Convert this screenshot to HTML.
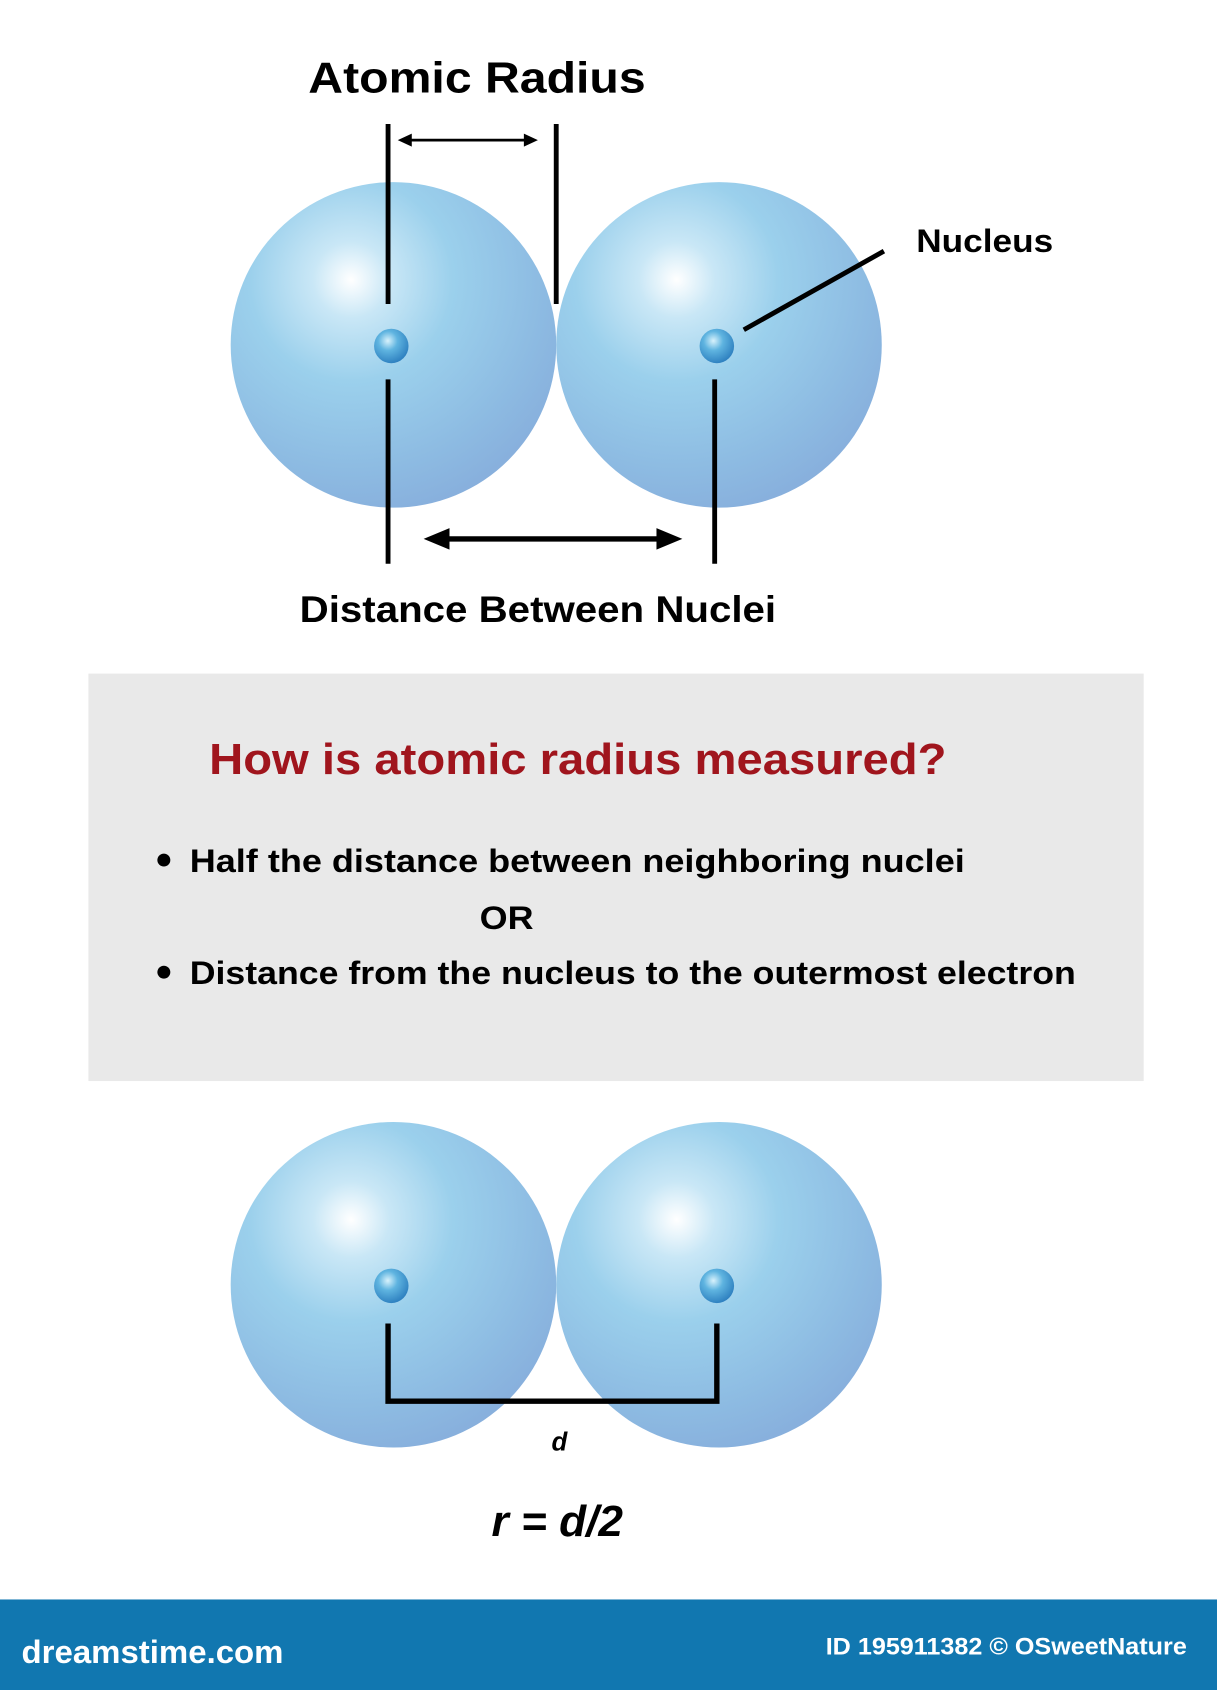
<!DOCTYPE html>
<html><head><meta charset="utf-8"><style>
html,body{margin:0;padding:0;background:#fff;width:1217px;height:1690px;overflow:hidden}
svg{display:block}
text{font-family:"Liberation Sans","DejaVu Sans",sans-serif;font-weight:bold}
</style></head><body>
<svg width="1217" height="1690" viewBox="0 0 1129 1568" preserveAspectRatio="none" xmlns="http://www.w3.org/2000/svg">
<defs>
<radialGradient id="g" cx="0.37" cy="0.3" r="0.78">
<stop offset="0" stop-color="#ffffff"/>
<stop offset="0.15" stop-color="#c9e7f6"/>
<stop offset="0.4" stop-color="#9bd0ec"/>
<stop offset="0.75" stop-color="#8dbbe2"/>
<stop offset="1" stop-color="#86acdb"/>
</radialGradient>
<radialGradient id="n" cx="0.4" cy="0.35" r="0.7">
<stop offset="0" stop-color="#d8f2fc"/>
<stop offset="0.4" stop-color="#5fb4e0"/>
<stop offset="1" stop-color="#2a7cbd"/>
</radialGradient>
</defs>
<rect width="1129" height="1568" fill="#fff"/>
<text x="286" y="86" font-size="40" textLength="313" lengthAdjust="spacingAndGlyphs">Atomic Radius</text>
<circle cx="365" cy="320" r="151" fill="url(#g)"/>
<circle cx="667" cy="320" r="151" fill="url(#g)"/>
<circle cx="363" cy="321" r="16" fill="url(#n)"/>
<circle cx="665" cy="321" r="16" fill="url(#n)"/>
<g stroke="#000" stroke-width="4.5" fill="none">
<line x1="360" y1="115" x2="360" y2="282"/>
<line x1="360" y1="352" x2="360" y2="523"/>
<line x1="516" y1="115" x2="516" y2="282"/>
<line x1="663" y1="352" x2="663" y2="523"/>
<line x1="690" y1="306" x2="820" y2="233"/>
<line x1="378" y1="130" x2="490" y2="130" stroke-width="2.5"/>
<line x1="410" y1="500" x2="616" y2="500" stroke-width="5"/>
</g>
<polygon points="369,130 382,124 382,136" fill="#000"/>
<polygon points="499,130 486,124 486,136" fill="#000"/>
<polygon points="393,500 417,490 417,510" fill="#000"/>
<polygon points="633,500 609,490 609,510" fill="#000"/>
<text x="850" y="234" font-size="30" textLength="127" lengthAdjust="spacingAndGlyphs">Nucleus</text>
<text x="278" y="577" font-size="34" textLength="442" lengthAdjust="spacingAndGlyphs">Distance Between Nuclei</text>
<rect x="82" y="625" width="979" height="378" fill="#e9e9e9"/>
<text x="194" y="718" font-size="40" fill="#a0151d" textLength="684" lengthAdjust="spacingAndGlyphs">How is atomic radius measured?</text>
<circle cx="152" cy="798" r="6" fill="#000"/>
<text x="176" y="809" font-size="30" textLength="719" lengthAdjust="spacingAndGlyphs">Half the distance between neighboring nuclei</text>
<text x="445" y="862" font-size="30" textLength="50" lengthAdjust="spacingAndGlyphs">OR</text>
<circle cx="152" cy="902" r="6" fill="#000"/>
<text x="176" y="913" font-size="30" textLength="822" lengthAdjust="spacingAndGlyphs">Distance from the nucleus to the outermost electron</text>
<circle cx="365" cy="1192" r="151" fill="url(#g)"/>
<circle cx="667" cy="1192" r="151" fill="url(#g)"/>
<circle cx="363" cy="1193" r="16" fill="url(#n)"/>
<circle cx="665" cy="1193" r="16" fill="url(#n)"/>
<polyline points="360,1228 360,1300 665,1300 665,1228" fill="none" stroke="#000" stroke-width="5"/>
<text x="519" y="1346" font-size="24" font-style="italic" text-anchor="middle">d</text>
<text x="456" y="1425" font-size="40" font-style="italic" textLength="122" lengthAdjust="spacingAndGlyphs">r = d/2</text>
<rect x="0" y="1484" width="1129" height="84" fill="#1177b0"/>
<text x="20" y="1543" font-size="30" fill="#fff" font-weight="normal" textLength="243" lengthAdjust="spacingAndGlyphs">dreamstime.com</text>
<text x="766" y="1535" font-size="22" fill="#fff" textLength="335" lengthAdjust="spacingAndGlyphs">ID 195911382 © OSweetNature</text>
</svg>
</body></html>
